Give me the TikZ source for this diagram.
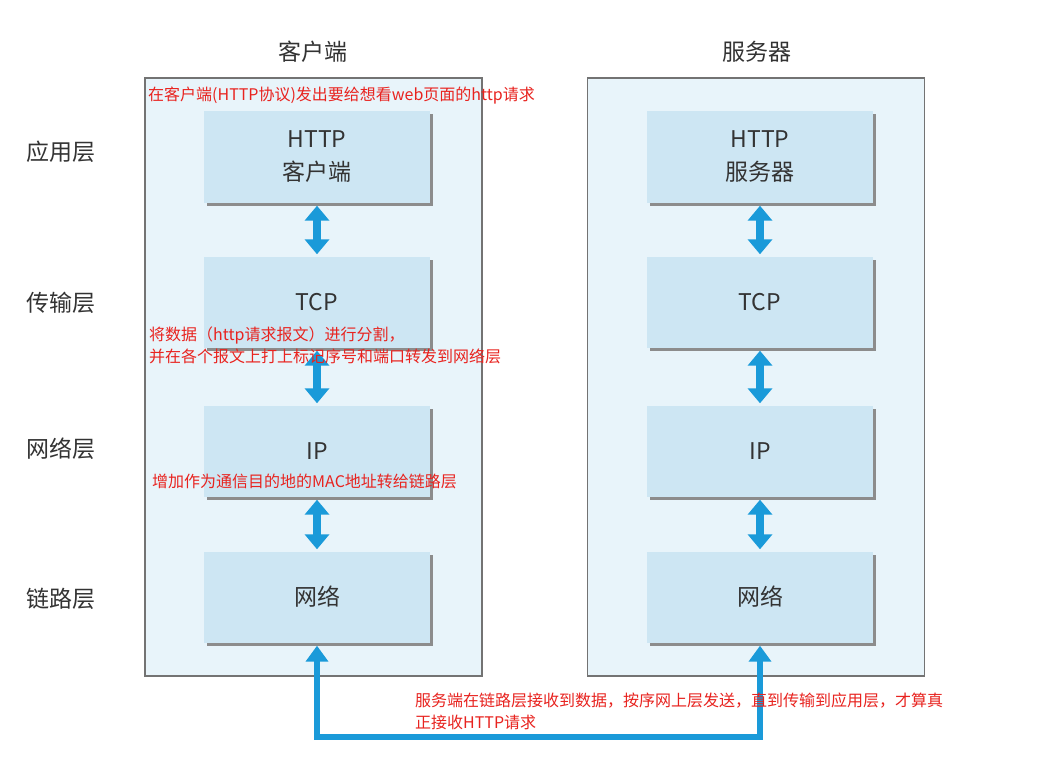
\documentclass[tikz,border=0pt]{standalone}
\usepackage{fontspec}
\setmainfont{Noto Sans CJK SC}
\usetikzlibrary{arrows.meta,shadows}
\definecolor{paneblue}{HTML}{E8F4FA}
\definecolor{boxblue}{HTML}{CDE6F3}
\definecolor{arrowblue}{HTML}{1A9AD9}
\definecolor{notered}{HTML}{E8231F}
\begin{document}
\begin{tikzpicture}[x=1pt,y=-1pt,
  layer/.style={font=\fontsize{23}{27}\selectfont, text=black!80},
  unit/.style={draw=black!55, fill=paneblue, line width=1.3pt, minimum width=337pt, minimum height=598pt},
  proto/.style={fill=boxblue, minimum width=226pt, minimum height=91pt, align=center,
    font=\fontsize{23}{33}\selectfont, text=black!80,
    drop shadow={shadow xshift=3pt, shadow yshift=-3pt, fill=black!45, opacity=1}},
  note/.style={text=notered, font=\fontsize{16}{22}\selectfont, anchor=west, align=left, inner sep=0pt},
  updown/.style={{Triangle[width=24pt,length=15pt]}-{Triangle[width=24pt,length=15pt]}, line width=8pt, draw=arrowblue},
  feed/.style={{Triangle[width=22pt,length=16pt]}-{Triangle[width=22pt,length=16pt]}, line width=6pt, draw=arrowblue},
]
\useasboundingbox[fill=white] (0,0) rectangle (1041,757);

% client and server panes
\node[unit] (client) at (313.5,377) {};
\node[unit] (server) at (756,377) {};
\node[layer] (clienttitle) at (313,52) {客户端};
\node[layer] (servertitle) at (757,52) {服务器};

% layer names
\foreach \name/\lbl/\y in {app/应用层/152, trans/传输层/303, net/网络层/449, link/链路层/599}
    \node[layer] (\name) at (61,\y) {\lbl};

% protocol boxes
\foreach \i/\ctext/\stext/\y in {1/{HTTP\\客户端}/{HTTP\\服务器}/157, 2/TCP/TCP/302, 3/IP/IP/451, 4/网络/网络/597} {
    \node[proto] (c\i) at (317,\y) {\ctext};
    \node[proto] (s\i) at (760,\y) {\stext};
}
\foreach \i/\j in {1/2, 2/3, 3/4} {
    \draw[updown, shorten <=3pt, shorten >=2pt] (c\i.south) -- (c\j.north);
    \draw[updown, shorten <=3pt, shorten >=2pt] (s\i.south) -- (s\j.north);
}

% link between the two hosts
\coordinate (cdown) at (317,737);
\coordinate (sdown) at (760,737);
\draw[feed] ([yshift=-3pt]c4.south) -- (cdown) -- (sdown) -- ([yshift=-3pt]s4.south);

% notes
\node[note] (n1) at (148,96) {在客户端(HTTP协议)发出要给想看web页面的http请求};
\node[note] (n2) at (149,345) {将数据（http请求报文）进行分割，\\并在各个报文上打上标记序号和端口转发到网络层};
\node[note] (n3) at (152,481) {增加作为通信目的地的MAC地址转给链路层};
\node[note] (n4) at (415,711) {服务端在链路层接收到数据，按序网上层发送，直到传输到应用层，才算真\\正接收HTTP请求};
\end{tikzpicture}
\end{document}
